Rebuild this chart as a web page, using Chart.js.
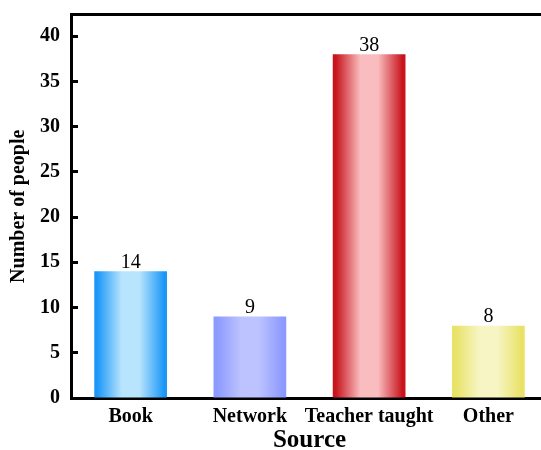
<!DOCTYPE html>
<html>
<head>
<meta charset="utf-8">
<script src="https://cdn.jsdelivr.net/npm/chart.js@4/dist/chart.umd.min.js"></script>
<style>
  html, body { margin: 0; padding: 0; overflow: hidden; background: #fff; }
  canvas { display: block; }
</style>
</head>
<body>
<canvas id="c" width="560" height="460"></canvas>
<script>
const categories = ["Book", "Network", "Teacher taught", "Other"];
const peopleCounts = [14, 9, 38, 8];
const yTickValues = [0, 5, 10, 15, 20, 25, 30, 35, 40];
const edgeColors = ["#1C97F8", "#8C99FF", "#C8141C", "#E8E266"];
const centerColors = ["#B8E4FD", "#BDC3FF", "#F9BDBF", "#F7F5C4"];

const FONT = "'Liberation Serif', 'Times New Roman', serif";
const BAR_PCT = 0.61;

function barGradient(ctx) {
  const chart = ctx.chart;
  const x = chart.scales && chart.scales.x;
  const i = ctx.dataIndex;
  if (!x || !chart.chartArea || i === undefined) return edgeColors[0];
  const cx = x.getPixelForValue(i);
  const w = (x.right - x.left) / categories.length * BAR_PCT;
  const g = chart.ctx.createLinearGradient(cx - w / 2, 0, cx + w / 2, 0);
  g.addColorStop(0, edgeColors[i]);
  g.addColorStop(0.04, edgeColors[i]);
  g.addColorStop(0.38, centerColors[i]);
  g.addColorStop(0.62, centerColors[i]);
  g.addColorStop(0.96, edgeColors[i]);
  g.addColorStop(1, edgeColors[i]);
  return g;
}

const valueLabels = {
  id: 'valueLabels',
  afterDatasetsDraw(chart) {
    const ctx = chart.ctx;
    const meta = chart.getDatasetMeta(0);
    ctx.save();
    ctx.font = "20px " + FONT;
    ctx.fillStyle = "#000";
    ctx.textAlign = "center";
    ctx.textBaseline = "alphabetic";
    meta.data.forEach((bar, i) => {
      ctx.fillText(String(peopleCounts[i]), bar.x, bar.y - 3.5);
    });
    ctx.restore();
  }
};

new Chart(document.getElementById('c'), {
  type: 'bar',
  data: {
    labels: categories,
    datasets: [{
      data: peopleCounts,
      backgroundColor: barGradient,
      borderWidth: 0,
      barPercentage: BAR_PCT,
      categoryPercentage: 1.0
    }]
  },
  options: {
    responsive: false,
    animation: false,
    devicePixelRatio: 1,
    layout: { padding: { top: 14.5, right: 12, left: 0, bottom: 0 } },
    plugins: { legend: { display: false }, tooltip: { enabled: false } },
    scales: {
      x: {
        afterFit(scale) { scale.height = 62; },
        grid: { display: false, drawTicks: false },
        border: { display: true, color: "#000", width: 3 },
        ticks: {
          padding: 7,
          color: "#000",
          maxRotation: 0,
          minRotation: 0,
          autoSkip: false,
          font: { family: FONT, size: 20, weight: 'bold' }
        },
        title: {
          display: true,
          text: "Source",
          color: "#000",
          padding: { top: 0, bottom: 6.5 },
          font: { family: FONT, size: 25, weight: 'bold', lineHeight: 1 }
        }
      },
      xTop: {
        position: 'top',
        type: 'category',
        labels: categories,
        grid: { display: false, drawTicks: false },
        border: { display: true, color: "#000", width: 3 },
        ticks: { display: false }
      },
      y: {
        min: 0,
        max: 42.4,
        afterBuildTicks(scale) {
          scale.ticks = yTickValues.map(v => ({ value: v }));
        },
        afterFit(scale) {
          scale.width = 71;
          scale.paddingTop = 0;
          scale.paddingBottom = 0;
        },
        grid: {
          display: true,
          drawOnChartArea: false,
          drawTicks: true,
          tickLength: -7,
          tickWidth: 3,
          tickColor: "#000"
        },
        border: { display: true, color: "#000", width: 3 },
        ticks: {
          padding: 18,
          color: "#000",
          font: { family: FONT, size: 20, weight: 'bold' }
        },
        title: {
          display: true,
          text: "Number of people",
          color: "#000",
          padding: { top: 7, bottom: 0 },
          font: { family: FONT, size: 20, weight: 'bold' }
        }
      }
    }
  },
  plugins: [valueLabels]
});
</script>
</body>
</html>
